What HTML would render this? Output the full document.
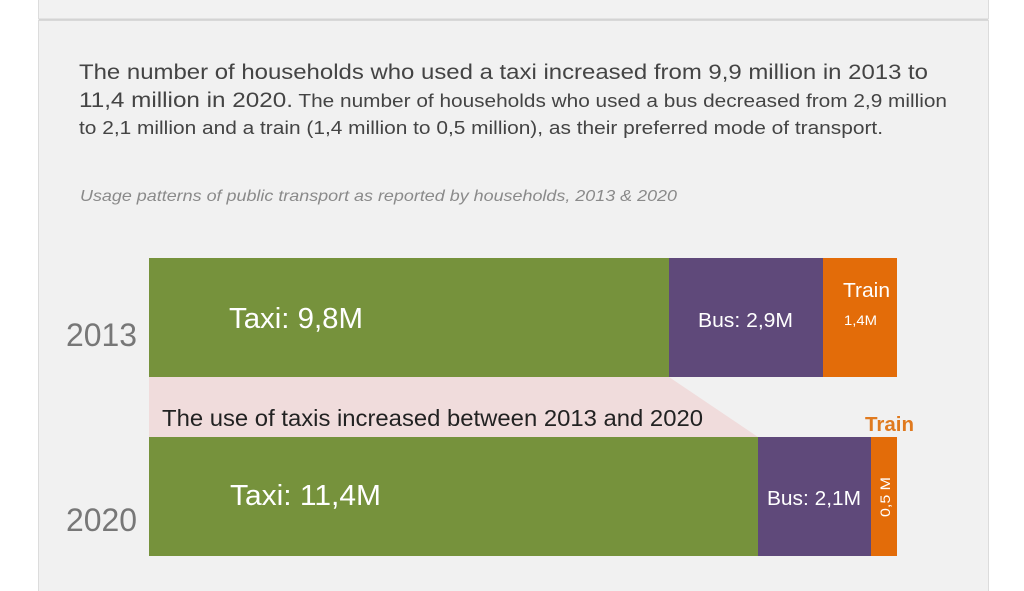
<!DOCTYPE html>
<html><head><style>
html,body{margin:0;padding:0;background:#fff;}
svg{display:block;font-family:"Liberation Sans",Arial,sans-serif;}
</style></head><body>
<svg width="1024" height="591" viewBox="0 0 1024 591" xmlns="http://www.w3.org/2000/svg">
<rect x="0" y="0" width="1024" height="591" fill="#ffffff"/>
<rect x="38.5" y="-1" width="950" height="20" fill="#f2f2f2" stroke="#dcdcdc"/>
<rect x="38.5" y="20.5" width="950" height="580" fill="#f1f1f1" stroke="#dcdcdc"/>
<line x1="39" y1="19.5" x2="988" y2="19.5" stroke="#d4d4d4" stroke-width="2"/>
<g fill="#444">
<text x="79" y="79" font-size="21" textLength="849" lengthAdjust="spacingAndGlyphs">The number of households who used a taxi increased from 9,9 million in 2013 to</text>
<text x="79" y="107" font-size="21" textLength="868" lengthAdjust="spacingAndGlyphs">11,4 million in 2020.<tspan font-size="18"> The number of households who used a bus decreased from 2,9 million</tspan></text>
<text x="79" y="134" font-size="18" textLength="804" lengthAdjust="spacingAndGlyphs">to 2,1 million and a train (1,4 million to 0,5 million), as their preferred mode of transport.</text>
</g>
<text x="80" y="201" font-size="16" font-style="italic" fill="#8a8a8a" textLength="597" lengthAdjust="spacingAndGlyphs">Usage patterns of public transport as reported by households, 2013 &amp; 2020</text>
<text x="66" y="346" font-size="32" fill="#777" textLength="71" lengthAdjust="spacingAndGlyphs">2013</text>
<text x="66" y="531" font-size="32" fill="#777" textLength="71" lengthAdjust="spacingAndGlyphs">2020</text>
<polygon points="149,377 669,377 758,437 149,437" fill="#f0dcdc"/>
<rect x="149" y="258" width="520" height="119" fill="#76923c"/>
<rect x="669" y="258" width="154" height="119" fill="#5f497a"/>
<rect x="823" y="258" width="74" height="119" fill="#e36c09"/>
<rect x="149" y="437" width="609" height="119" fill="#76923c"/>
<rect x="758" y="437" width="113" height="119" fill="#5f497a"/>
<rect x="871" y="437" width="26" height="119" fill="#e36c09"/>
<g fill="#fff">
<text x="229" y="328" font-size="29" textLength="134" lengthAdjust="spacingAndGlyphs">Taxi: 9,8M</text>
<text x="698" y="327" font-size="20" textLength="95" lengthAdjust="spacingAndGlyphs">Bus: 2,9M</text>
<text x="843" y="297" font-size="20" textLength="47" lengthAdjust="spacingAndGlyphs">Train</text>
<text x="844" y="325" font-size="14" textLength="33" lengthAdjust="spacingAndGlyphs">1,4M</text>
<text x="230" y="505" font-size="29" textLength="151" lengthAdjust="spacingAndGlyphs">Taxi: 11,4M</text>
<text x="767" y="505" font-size="20" textLength="94" lengthAdjust="spacingAndGlyphs">Bus: 2,1M</text>
<text transform="translate(890,517) rotate(-90)" font-size="14" textLength="40" lengthAdjust="spacingAndGlyphs">0,5 M</text>
</g>
<text x="162" y="426" font-size="23.5" fill="#222" textLength="541" lengthAdjust="spacingAndGlyphs">The use of taxis increased between 2013 and 2020</text>
<text x="865" y="431" font-size="20" font-weight="bold" fill="#e07a1f" textLength="49" lengthAdjust="spacingAndGlyphs">Train</text>
</svg>
</body></html>
